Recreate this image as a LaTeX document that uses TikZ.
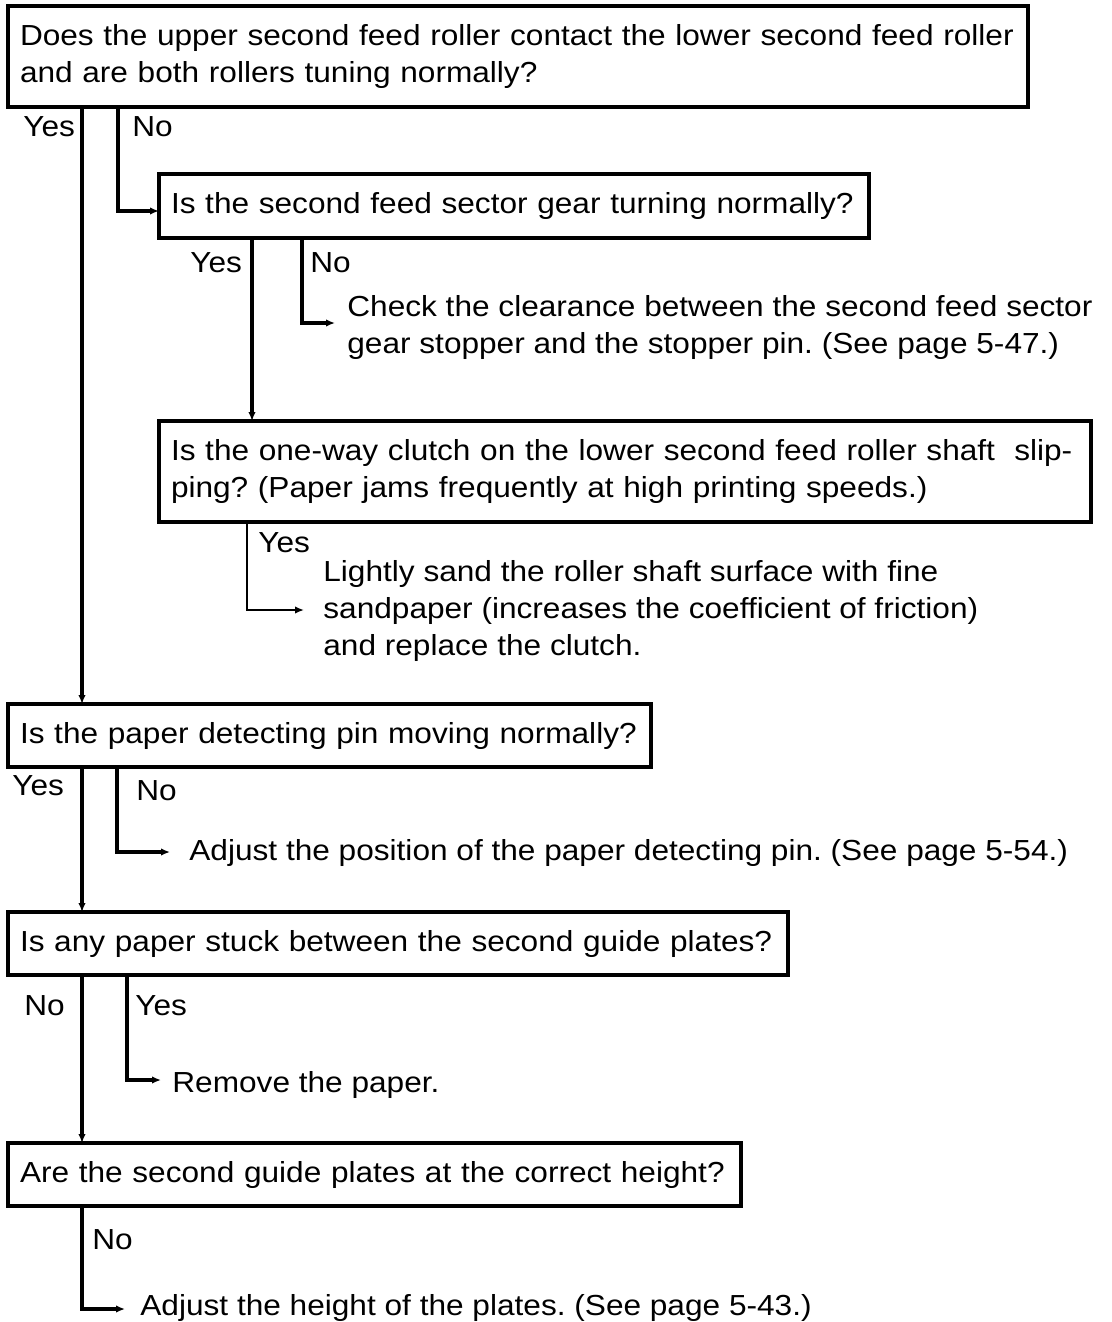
\documentclass[tikz,border=0pt]{standalone}
\usepackage{fontspec}
\setmainfont{Liberation Sans}[FakeStretch=1.09]
\usetikzlibrary{calc,arrows.meta}
\frenchspacing

\begin{document}
\begin{tikzpicture}[x=0.5pt,y=-0.5pt,font=\fontsize{14.5pt}{18.5pt}\selectfont,
 b/.style={draw,line width=1.8pt,anchor=north west,align=left,inner xsep=6pt,outer sep=0pt},
 ar/.style={-{Latex[length=4.5pt,width=3.8pt]},line width=1.6pt},
 lbl/.style={anchor=base west,inner sep=0pt},
 act/.style={anchor=base west,align=left,inner sep=0pt}]
\useasboundingbox (0,0) rectangle (1112,1322);
% questions
\node[b,minimum height=50.5pt,text width=498pt] (roll) at (8,6)
 {Does the upper second feed roller contact the lower second feed roller\\ and are both rollers tuning normally?};
\node[b,minimum height=32pt,text width=343pt] (gear) at (159,174) {Is the second feed sector gear turning normally?};
\node[b,minimum height=50.5pt,text width=454pt] (clutch) at (159,421)
 {Is the one-way clutch on the lower second feed roller shaft \ slip-\\ping? (Paper jams frequently at high printing speeds.)};
\node[b,minimum height=31.5pt,text width=309.5pt] (pin) at (8,704) {Is the paper detecting pin moving normally?};
\node[b,minimum height=31.5pt,text width=378pt] (stuck) at (8,912) {Is any paper stuck between the second guide plates?};
\node[b,minimum height=31.5pt,text width=354.5pt] (plates) at (8,1143) {Are the second guide plates at the correct height?};
% answers
\node[lbl] (y1) at (23,137) {Yes};  \node[lbl] (n1) at (132,137) {No};
\node[lbl] (y2) at (190,272) {Yes}; \node[lbl] (n2) at (310,272) {No};
\node[lbl] (y3) at (258,552) {Yes};
\node[lbl] (y4) at (12,795) {Yes};  \node[lbl] (n4) at (136,800) {No};
\node[lbl] (n5) at (24,1015) {No};  \node[lbl] (y5) at (135,1015) {Yes};
\node[lbl] (n6) at (92,1249) {No};
% actions (base = last line)
\node[act] (clear) at (347,353)
 {Check the clearance between the second feed sector\\ gear stopper and the stopper pin. (See page 5-47.)};
\node[act] (sand) at (323,655)
 {Lightly sand the roller shaft surface with fine\\ sandpaper (increases the coefficient of friction)\\ and replace the clutch.};
\node[act] (adjpin) at (189,860) {Adjust the position of the paper detecting pin. (See page 5-54.)};
\node[act] (remove) at (172,1092) {Remove the paper.};
\node[act] (adjht) at (140,1315) {Adjust the height of the plates. (See page 5-43.)};
% connectors
\draw[ar] ($(roll.south west)+(74,0)$) -- ($(pin.north west)+(74,0)$);
\draw[ar] ($(roll.south west)+(110,0)$) |- ($(gear.west)+(0,5)$);
\draw[ar] ($(gear.south west)+(93,0)$) -- ($(clutch.north west)+(93,0)$);
\draw[ar] ($(gear.south west)+(143,0)$) |- ($(clear.base west)+(-12,-30)$);
\draw[ar,line width=1.1pt] ($(clutch.south west)+(88,0)$) |- ($(sand.base west)+(-19,-45)$);
\draw[ar] ($(pin.south west)+(74,0)$) -- ($(stuck.north west)+(74,0)$);
\draw[ar] ($(pin.south west)+(109,0)$) |- ($(adjpin.base west)+(-19,-8)$);
\draw[ar] ($(stuck.south west)+(74,0)$) -- ($(plates.north west)+(74,0)$);
\draw[ar] ($(stuck.south west)+(119,0)$) |- ($(remove.base west)+(-11,-12)$);
\draw[ar] ($(plates.south west)+(74,0)$) |- ($(adjht.base west)+(-15,-6)$);
\end{tikzpicture}
\end{document}
